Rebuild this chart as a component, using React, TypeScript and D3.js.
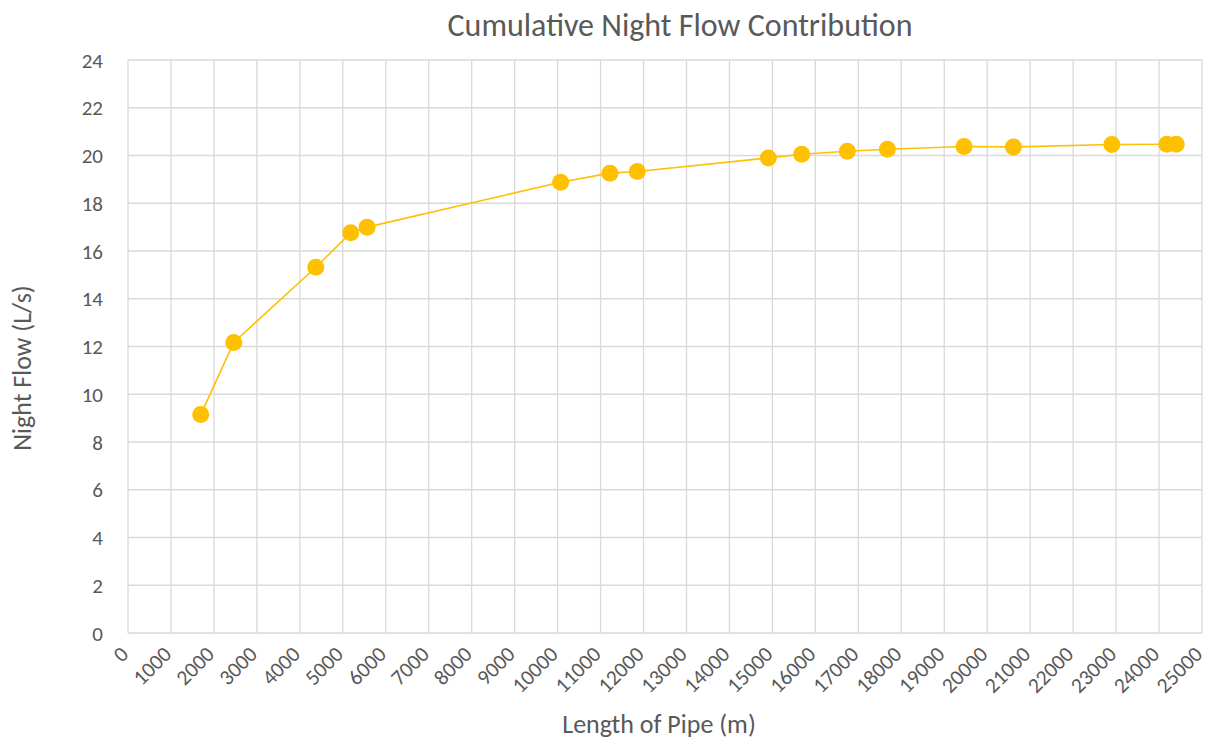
import React from "react";
import * as d3 from "d3";

const pipeLength = [1693, 2462, 4371, 5184, 5566, 10070, 11218, 11854, 14905, 15682, 16744, 17676, 19462, 20610, 22902, 24183, 24400];
const nightFlow = [9.15, 12.17, 15.32, 16.76, 17.0, 18.88, 19.26, 19.33, 19.9, 20.05, 20.18, 20.26, 20.38, 20.36, 20.46, 20.47, 20.47];
const xTicks = d3.range(0, 25001, 1000);
const yTicks = d3.range(0, 25, 2);

const title = "Cumulative Night Flow Contribution";
const xTitle = "Length of Pipe (m)";
const yTitle = "Night Flow (L/s)";

const width = 1208;
const height = 742;
const margin = { top: 60, right: 6, bottom: 109, left: 128 };

export default function App() {
  const innerWidth = width - margin.left - margin.right;
  const innerHeight = height - margin.top - margin.bottom;

  const xScale = d3.scaleLinear().domain([0, 25000]).range([0, innerWidth]);
  const yScale = d3.scaleLinear().domain([0, 24]).range([innerHeight, 0]);

  const points: [number, number][] = pipeLength.map((x, i) => [x, nightFlow[i]]);
  const line = d3
    .line<[number, number]>()
    .x(d => xScale(d[0]))
    .y(d => yScale(d[1]))(points);

  const font = "Calibri, Carlito, Lato, sans-serif";
  const textColor = "#595959";
  const grid = "#d9d9d9";

  return (
    <svg width={width} height={height} style={{ display: "block", position: "absolute", left: 0, top: 0 }}>
      <rect width={width} height={height} fill="#fff" />
      <text x={680} y={36} textAnchor="middle" fontFamily={font} fontSize={32} fill={textColor}>
        {title}
      </text>
      <g transform={`translate(${margin.left},${margin.top})`}>
        {yTicks.map(t => (
          <line key={`gy${t}`} x1={0} x2={innerWidth} y1={yScale(t)} y2={yScale(t)} stroke={grid} strokeWidth={1.3} />
        ))}
        {xTicks.map(t => (
          <line key={`gx${t}`} x1={xScale(t)} x2={xScale(t)} y1={0} y2={innerHeight} stroke={grid} strokeWidth={1.3} />
        ))}
        {yTicks.map(t => (
          <text
            key={`ly${t}`}
            x={-25}
            y={yScale(t)}
            dy="0.36em"
            textAnchor="end"
            fontFamily={font}
            fontSize={21}
            fill={textColor}
          >
            {t}
          </text>
        ))}
        {xTicks.map(t => (
          <text
            key={`lx${t}`}
            transform={`translate(${xScale(t) - 9},${innerHeight + 12}) rotate(-45)`}
            textAnchor="end"
            dy="0.7em"
            fontFamily={font}
            fontSize={21.5}
            fill={textColor}
          >
            {t}
          </text>
        ))}
        <path d={line ?? undefined} fill="none" stroke="#FFC000" strokeWidth={1.6} />
        {points.map((d, i) => (
          <circle key={i} cx={xScale(d[0])} cy={yScale(d[1])} r={8.5} fill="#FFC000" />
        ))}
      </g>
      <text x={659} y={733} textAnchor="middle" fontFamily={font} fontSize={26} fill={textColor}>
        {xTitle}
      </text>
      <text
        transform={`translate(31,368) rotate(-90)`}
        textAnchor="middle"
        fontFamily={font}
        fontSize={26}
        fill={textColor}
      >
        {yTitle}
      </text>
    </svg>
  );
}
